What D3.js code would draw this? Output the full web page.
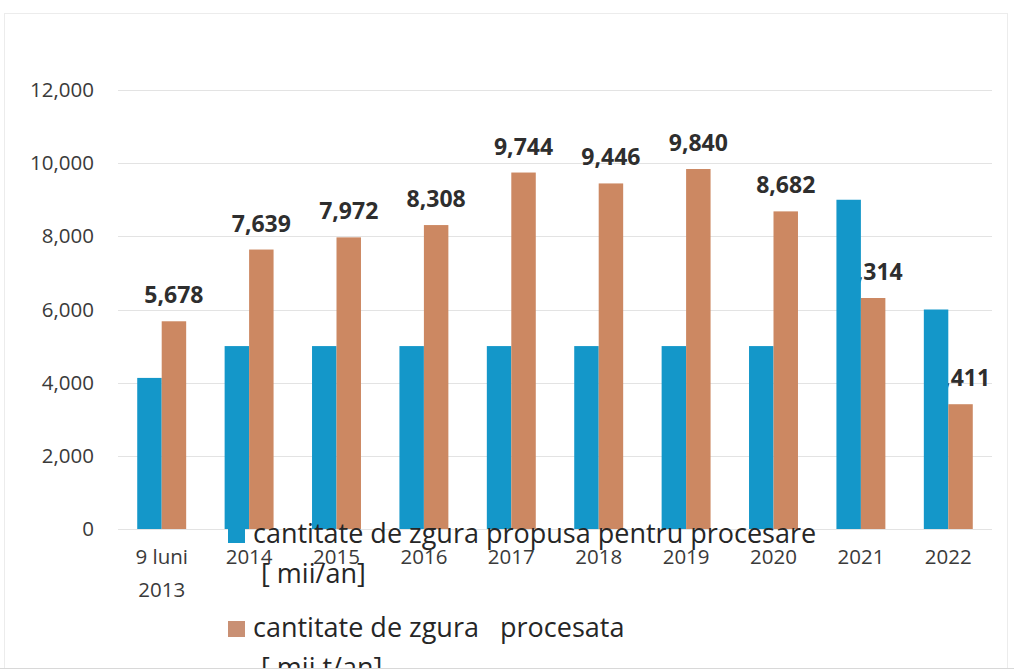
<!DOCTYPE html>
<html>
<head>
<meta charset="utf-8">
<script src="https://cdn.jsdelivr.net/npm/d3@7"></script>
<style>
  body { margin: 0; background: #fff; }
  text { font-family: "Open Sans", sans-serif; white-space: pre; }
</style>
</head>
<body>
<script>
var categories = ["9 luni\n2013", "2014", "2015", "2016", "2017", "2018", "2019", "2020", "2021", "2022"];
var propusa = [4130, 5000, 5000, 5000, 5000, 5000, 5000, 5000, 9000, 6000];
var procesata = [5678, 7639, 7972, 8308, 9744, 9446, 9840, 8682, 6314, 3411];
var yTicks = [0, 2000, 4000, 6000, 8000, 10000, 12000];
var legendLabels = [
  ["cantitate de zgura propusa pentru procesare", "[ mii/an]"],
  ["cantitate de zgura   procesata", "[ mii t/an]"]
];

var width = 1014,
    height = 671;

var blue = "#1497c9",
    orange = "#cc8862";

var svg = d3.select("body").append("svg")
    .attr("width", width)
    .attr("height", height);

svg.append("clipPath").attr("id", "page")
  .append("rect").attr("x", 0).attr("y", 0).attr("width", width).attr("height", 668);

var g = svg.append("g").attr("clip-path", "url(#page)");

// faint frame of the scanned chart
g.append("rect")
    .attr("x", 4.5).attr("y", 13.5)
    .attr("width", 1003).attr("height", 700)
    .attr("fill", "none")
    .attr("stroke", "#ececec");

var x0 = d3.scaleBand()
    .domain(categories)
    .range([118, 992])
    .paddingInner(0.44)
    .paddingOuter(0.22);

var x1 = d3.scaleBand()
    .domain([0, 1])
    .range([0, x0.bandwidth()]);

var y = d3.scaleLinear()
    .domain([0, 12000])
    .range([529, 90]);

// gridlines
g.selectAll(".grid")
    .data(yTicks)
  .enter().append("line")
    .attr("class", "grid")
    .attr("x1", 118).attr("x2", 992)
    .attr("y1", function(d){ return Math.round(y(d)) + 0.5; })
    .attr("y2", function(d){ return Math.round(y(d)) + 0.5; })
    .attr("stroke", "#e3e3e3")
    .attr("stroke-width", 1);

// y axis labels
var yAxis = d3.axisLeft(y)
    .tickValues(yTicks)
    .tickFormat(d3.format(","))
    .tickSize(0)
    .tickPadding(0);

var ya = g.append("g")
    .attr("transform", "translate(94,0)")
    .call(yAxis);
ya.select(".domain").remove();
ya.selectAll("text")
    .attr("font-family", "Open Sans, sans-serif")
    .attr("font-size", 20.5)
    .attr("fill", "#3a3a3a");

// value labels (drawn under the bars, like the scan)
g.selectAll(".val")
    .data(procesata)
  .enter().append("text")
    .attr("class", "val")
    .attr("x", function(d, i){ return x0(categories[i]) + x1(1) + x1.bandwidth() / 2; })
    .attr("y", function(d){ return y(d) - 18; })
    .attr("text-anchor", "middle")
    .attr("font-size", 23)
    .attr("font-weight", "bold")
    .attr("fill", "#2e2e2e")
    .text(function(d){ return d3.format(",")(d); });

// bars
var series = [propusa, procesata];
var colors = [blue, orange];

series.forEach(function(s, k) {
  g.selectAll(".bar" + k)
      .data(s)
    .enter().append("rect")
      .attr("class", "bar" + k)
      .attr("x", function(d, i){ return x0(categories[i]) + x1(k); })
      .attr("y", function(d){ return y(d); })
      .attr("width", x1.bandwidth())
      .attr("height", function(d){ return y(0) - y(d); })
      .attr("fill", colors[k]);
});

// x axis labels
var xl = g.selectAll(".xlab")
    .data(categories)
  .enter().append("text")
    .attr("class", "xlab")
    .attr("text-anchor", "middle")
    .attr("font-size", 20.5)
    .attr("fill", "#3a3a3a")
    .attr("transform", function(d){ return "translate(" + (x0(d) + x0.bandwidth() / 2) + ",564)"; });

xl.selectAll("tspan")
    .data(function(d){ return d.split("\n"); })
  .enter().append("tspan")
    .attr("x", 0)
    .attr("dy", function(d, i){ return i ? 33 : 0; })
    .text(function(d){ return d; });

// legend, overlapping the axis like in the scan
var legendY = [543, 637];

var leg = g.selectAll(".legend")
    .data(legendLabels)
  .enter().append("g")
    .attr("class", "legend")
    .attr("transform", function(d, i){ return "translate(228," + legendY[i] + ")"; });

leg.append("rect")
    .attr("x", 0).attr("y", -16)
    .attr("width", 17).attr("height", 16)
    .attr("fill", function(d, i){ return i ? "#c99074" : blue; });

leg.append("text")
    .attr("x", 25).attr("y", 0)
    .attr("font-size", 27)
    .attr("fill", "#262626")
    .text(function(d){ return d[0]; });

leg.append("text")
    .attr("x", 33).attr("y", 40)
    .attr("font-size", 27)
    .attr("fill", "#262626")
    .text(function(d){ return d[1]; });

// bottom edge of the scan
svg.append("line")
    .attr("x1", 0).attr("x2", width)
    .attr("y1", 668.5).attr("y2", 668.5)
    .attr("stroke", "#d8d8d8");
</script>
</body>
</html>
